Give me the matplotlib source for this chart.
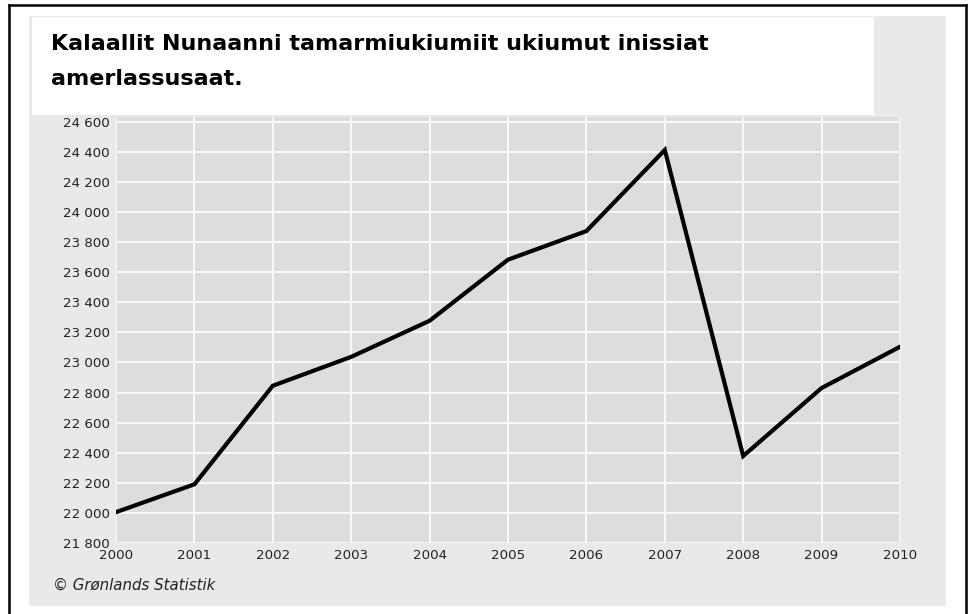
import matplotlib
matplotlib.use("Agg")
import matplotlib.pyplot as plt
from matplotlib.patches import Rectangle
from matplotlib.lines import Line2D

years = [2000, 2001, 2002, 2003, 2004, 2005, 2006, 2007, 2008, 2009, 2010]
values = [22005, 22190, 22845, 23037, 23277, 23683, 23873, 24412, 22378, 22830, 23104]
y_ticks = list(range(21800, 24601, 200))
title_lines = ["Kalaallit Nunaanni tamarmiukiumiit ukiumut inissiat", "amerlassusaat."]
source = "\u00a9 Gr\u00f8nlands Statistik"

W, H = 968, 614
plt.rcParams['font.family'] = ['DejaVu Sans']

fig = plt.figure(figsize=(W / 100, H / 100), dpi=100)
fig.patch.set_facecolor('white')

def fx(x):
    return x / W

def fy(y):
    return 1 - y / H

# outer frame (bottom edge falls outside the image)
for xs, ys in [([9, 9], [5, 620]), ([9, 966], [5, 5]), ([966, 966], [5, 620])]:
    fig.add_artist(Line2D([fx(v) for v in xs], [fy(v) for v in ys],
                          color='black', lw=1.8))

# grey panel and white title box
fig.add_artist(Rectangle((fx(29), fy(606)), fx(946) - fx(29), fy(16) - fy(606),
                         facecolor='#e9e9e9', edgecolor='none', zorder=0))

ax = fig.add_axes([fx(116), fy(543), fx(900) - fx(116), fy(117) - fy(543)])
ax.set_facecolor('#dddddd')
ax.plot(years, values, color='black', lw=3.0, solid_joinstyle='miter', zorder=3)

ax.set_xlim(2000, 2010)
ax.set_ylim(21800, 24631)
ax.set_xticks(years)
ax.set_yticks(y_ticks)
ax.set_yticklabels([f"{v:,}".replace(",", " ") for v in y_ticks])
ax.grid(True, color='white', lw=1.2)
ax.set_axisbelow(True)
for s in ax.spines.values():
    s.set_visible(False)
ax.tick_params(length=0, labelsize=9.6, labelcolor='#222222')
ax.tick_params(axis='y', pad=4.5)
ax.tick_params(axis='x', pad=4)

fig.add_artist(Rectangle((fx(32), fy(115)), fx(874) - fx(32), fy(17) - fy(115),
                         facecolor='white', edgecolor='none', zorder=5))
for line, base in zip(title_lines, [50, 85]):
    fig.text(fx(51), fy(base), line, fontsize=16, fontweight='bold',
             va='baseline', ha='left', zorder=6)
fig.text(fx(53), fy(590), source, fontsize=10.8, style='italic',
         color='#222222', va='baseline', ha='left')

fig.savefig('out.png', dpi=100, facecolor='white')
